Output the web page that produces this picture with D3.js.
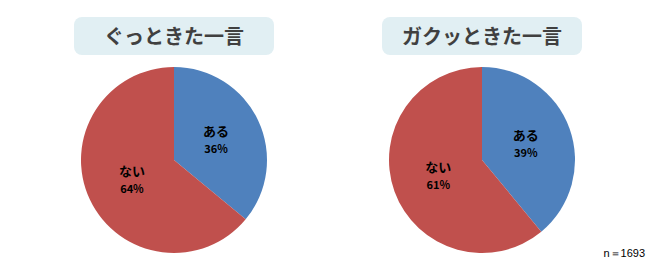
<!DOCTYPE html>
<html>
<head>
<meta charset="utf-8">
<script src="https://cdn.jsdelivr.net/npm/d3@7"></script>
<style>
body { margin: 0; background: #fff; }
svg { display: block; font-family: "Noto Sans CJK JP", "Noto Sans", sans-serif; }
</style>
</head>
<body>
<svg id="chart" width="660" height="270"></svg>
<script>
var titles = ["ぐっときた一言", "ガクッときた一言"]
var categories = ["ある", "ない"]
var values1 = [36, 64]
var values2 = [39, 61]
var colors = ["#4F81BD", "#C0504D"]
var note = "n\uFF1D1693"

var svg = d3.select("#chart")
var radius = 93
var centers = [174, 482]
var allValues = [values1, values2]

var pie = d3.pie().sort(null).value(function(d) { return d.value })
var arc = d3.arc().innerRadius(0).outerRadius(radius)
var color = d3.scaleOrdinal().domain(categories).range(colors)

allValues.forEach(function(vals, i) {
    var data = categories.map(function(c, j) { return {name: c, value: vals[j]} })
    var g = svg.append("g").attr("transform", "translate(" + centers[i] + ",160)")

    g.selectAll("path")
        .data(pie(data))
        .join("path")
        .attr("d", arc)
        .attr("fill", function(d) { return color(d.data.name) })

    var labels = g.selectAll("g.lbl")
        .data(pie(data))
        .join("g")
        .attr("class", "lbl")
        .attr("transform", function(d) {
            var c = arc.centroid(d)
            return "translate(" + c[0] + "," + c[1] + ")"
        })
    labels.append("text")
        .attr("text-anchor", "middle")
        .attr("y", -4)
        .attr("font-size", 13)
        .attr("font-weight", "bold")
        .attr("fill", "#000")
        .text(function(d) { return d.data.name })
    labels.append("text")
        .attr("text-anchor", "middle")
        .attr("y", 13)
        .attr("font-size", 11)
        .attr("font-weight", "bold")
        .attr("fill", "#000")
        .text(function(d) { return d.data.value + "%" })

    // title box
    svg.append("rect")
        .attr("x", centers[i] - 100)
        .attr("y", 17)
        .attr("width", 200)
        .attr("height", 38)
        .attr("rx", 8)
        .attr("fill", "#E1EFF3")
    svg.append("text")
        .attr("x", centers[i])
        .attr("y", 44)
        .attr("text-anchor", "middle")
        .attr("font-size", 20)
        .attr("font-weight", "bold")
        .attr("fill", "#404040")
        .text(titles[i])
})

svg.append("text")
    .attr("x", 645)
    .attr("y", 257)
    .attr("text-anchor", "end")
    .attr("font-size", 11)
    .attr("font-family", "Liberation Sans, Arial, sans-serif")
    .attr("fill", "#000")
    .text(note)
</script>
</body>
</html>
